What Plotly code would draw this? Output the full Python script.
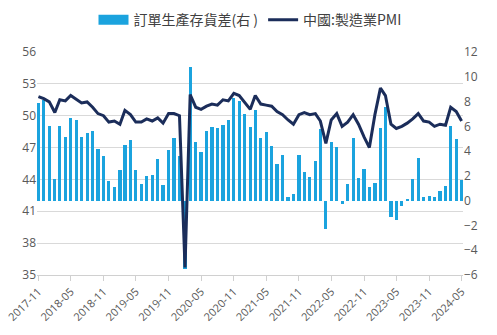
import pandas as pd
import plotly.graph_objects as go

dates = pd.date_range("2017-11-01", periods=79, freq="MS")

pmi = [51.8, 51.6,
       51.3, 50.3, 51.5, 51.4, 51.9, 51.5, 51.2, 51.3, 50.8, 50.2, 50.0, 49.4,
       49.5, 49.2, 50.5, 50.1, 49.4, 49.4, 49.7, 49.5, 49.8, 49.3, 50.2, 50.2,
       50.0, 35.7, 52.0, 50.8, 50.6, 50.9, 51.1, 51.0, 51.5, 51.4, 52.1, 51.9,
       51.3, 50.6, 51.9, 51.1, 51.0, 50.9, 50.4, 50.1, 49.6, 49.2, 50.1, 50.3,
       50.1, 50.2, 49.5, 47.4, 49.6, 50.2, 49.0, 49.4, 50.1, 49.2, 48.0, 47.0,
       50.1, 52.6, 51.9, 49.2, 48.8, 49.0, 49.3, 49.7, 50.2, 49.5, 49.4, 49.0,
       49.2, 49.1, 50.8, 50.4, 49.5]

spread = [7.9, 8.15, 6.05, 1.78, 6.0, 5.1, 6.67, 6.5, 5.14, 5.46, 5.65, 4.14,
          3.58, 1.56, 1.08, 2.47, 4.46, 4.87, 2.47, 1.35, 1.96, 2.07, 3.36, 1.29,
          4.1, 5.08, 3.58, -5.5, 10.75, 4.76, 3.96, 5.6, 5.95, 5.87, 6.13, 6.48,
          8.29, 8.02, 7.02, 5.95, 7.34, 5.06, 5.51, 4.44, 2.96, 3.68, 0.26, 0.54,
          3.66, 2.33, 1.93, 3.23, 5.8, -2.29, 4.73, 4.33, -0.27, 1.35, 5.06, 1.8,
          2.55, 1.08, 1.42, 5.87, 7.56, -1.32, -1.59, -0.4, 0.16, 1.78, 3.47, 0.27,
          0.4, 0.27, 0.78, 1.18, 6.05, 4.97, 1.69]

bar_name = "訂單生產存貨差(右 )"
line_name = "中國:製造業PMI"
bar_color = "#1BA3DE"
line_color = "#1B2D5A"

fig = go.Figure()
fig.add_trace(go.Bar(x=dates, y=spread, name=bar_name, marker_color=bar_color,
                     marker_line_width=0, width=18 * 86400000, yaxis="y",
                     showlegend=False))
# legend proxy for the bar series (wide rectangle swatch)
fig.add_trace(go.Scatter(x=[None], y=[None], name=bar_name, mode="lines",
                         line=dict(color=bar_color, width=12), yaxis="y"))
fig.add_trace(go.Scatter(x=dates, y=pmi, name=line_name, mode="lines",
                         line=dict(color=line_color, width=3), yaxis="y2"))

font_family = "Open Sans, Noto Sans CJK TC, sans-serif"
fig.update_layout(
    width=497, height=335,
    margin=dict(l=37, r=34, t=52, b=60, autoexpand=False),
    paper_bgcolor="white", plot_bgcolor="white",
    font=dict(family=font_family, size=12, color="#595959"),
    showlegend=True,
    legend=dict(orientation="h", x=0.5, xanchor="center",
                yref="container", y=0.94, yanchor="middle",
                font=dict(size=14, color="#404040", family="Noto Sans CJK TC, sans-serif"),
                itemwidth=30, traceorder="normal"),
    bargap=0,
    xaxis=dict(type="date", range=["2017-10-24", "2024-05-09"],
               tick0="2017-11-01", dtick="M6", tickformat="%Y-%m", tickangle=-45,
               ticks="outside", ticklen=5, tickcolor="#d0d0d0",
               showline=True, linecolor="#d0d0d0", showgrid=False,
               tickfont=dict(size=11, color="#595959")),
    yaxis=dict(side="right", range=[-6, 12], dtick=2, tick0=-6, showgrid=False,
               zeroline=False, tickfont=dict(size=12, color="#595959")),
    yaxis2=dict(side="left", overlaying="y", range=[35, 56], dtick=3, tick0=35,
                showgrid=True, gridcolor="#d9d9d9", zeroline=False,
                tickfont=dict(size=12, color="#595959")),
)

fig.write_html("out.html")
